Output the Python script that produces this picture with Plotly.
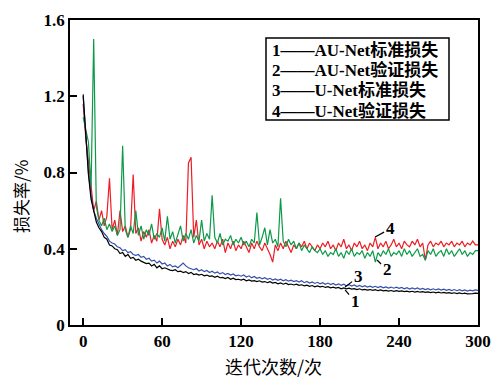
import plotly.graph_objects as go

epochs = list(range(0, 301, 2))

# 1: AU-Net 标准损失 (black)
loss1 = [1.21, 0.97, 0.79, 0.66, 0.59, 0.54, 0.51, 0.49, 0.46, 0.45,
         0.42, 0.415, 0.40, 0.395, 0.375, 0.38, 0.36, 0.37, 0.35, 0.355,
         0.34, 0.345, 0.335, 0.33, 0.322, 0.325, 0.31, 0.318, 0.30, 0.31,
         0.295, 0.30, 0.292, 0.288, 0.285, 0.29, 0.28, 0.283, 0.275, 0.28,
         0.27, 0.276, 0.265, 0.268, 0.262, 0.266, 0.258, 0.262, 0.255, 0.258,
         0.25, 0.256, 0.248, 0.25, 0.244, 0.249, 0.24, 0.246, 0.238, 0.24,
         0.236, 0.24, 0.232, 0.236, 0.23, 0.233, 0.228, 0.232, 0.225, 0.228,
         0.222, 0.227, 0.22, 0.223, 0.216, 0.221, 0.214, 0.219, 0.212, 0.215,
         0.21, 0.214, 0.208, 0.211, 0.205, 0.209, 0.203, 0.207, 0.2, 0.205,
         0.2, 0.203, 0.197, 0.201, 0.195, 0.199, 0.194, 0.197, 0.19, 0.195,
         0.19, 0.193, 0.188, 0.191, 0.186, 0.19, 0.184, 0.187, 0.183, 0.186,
         0.182, 0.185, 0.18, 0.184, 0.179, 0.182, 0.178, 0.181, 0.177, 0.18,
         0.176, 0.179, 0.175, 0.178, 0.174, 0.177, 0.173, 0.176, 0.172, 0.175,
         0.171, 0.174, 0.17, 0.173, 0.169, 0.172, 0.168, 0.171, 0.167, 0.17,
         0.166, 0.169, 0.165, 0.168, 0.164, 0.167, 0.163, 0.166, 0.165, 0.167,
         0.166]

# 2: AU-Net 验证损失 (green)
loss2 = [1.09, 1.02, 0.96, 0.72, 1.50, 0.62, 0.55, 0.52, 0.56, 0.50,
         0.53, 0.49, 0.52, 0.47, 0.50, 0.94, 0.50, 0.46, 0.52, 0.48,
         0.60, 0.47, 0.52, 0.45, 0.50, 0.47, 0.53, 0.45, 0.48, 0.46,
         0.51, 0.44, 0.57, 0.45, 0.49, 0.43, 0.47, 0.52, 0.44, 0.48,
         0.45, 0.50, 0.43, 0.47, 0.44, 0.55, 0.44, 0.48, 0.45, 0.68,
         0.46, 0.43, 0.48, 0.42, 0.45, 0.44, 0.47, 0.42, 0.45, 0.43,
         0.46, 0.42, 0.44, 0.41, 0.45, 0.43, 0.59, 0.42, 0.46, 0.51,
         0.42, 0.50, 0.43, 0.45, 0.41, 0.665, 0.44, 0.41, 0.45, 0.42,
         0.44, 0.40, 0.43, 0.39, 0.42, 0.40, 0.38, 0.41, 0.39, 0.38,
         0.40, 0.37, 0.39, 0.36, 0.38, 0.37, 0.40, 0.36, 0.38, 0.35,
         0.39, 0.37, 0.40, 0.36, 0.38, 0.37, 0.39, 0.35, 0.38, 0.36,
         0.39, 0.33, 0.38, 0.36, 0.39, 0.37, 0.40, 0.36, 0.38, 0.37,
         0.39, 0.36, 0.40, 0.37, 0.39, 0.36, 0.38, 0.40, 0.36, 0.37,
         0.34, 0.39, 0.37, 0.40, 0.36, 0.38, 0.39, 0.36, 0.40, 0.37,
         0.39, 0.36, 0.38, 0.40, 0.37, 0.39, 0.36, 0.38, 0.37, 0.39,
         0.39]

# 3: U-Net 标准损失 (blue)
loss3 = [1.20, 0.99, 0.80, 0.68, 0.60, 0.56, 0.53, 0.50, 0.48, 0.465,
         0.44, 0.43, 0.425, 0.41, 0.405, 0.39, 0.395, 0.38, 0.385, 0.37,
         0.365, 0.37, 0.355, 0.36, 0.345, 0.35, 0.335, 0.34, 0.325, 0.335,
         0.32, 0.325, 0.31, 0.318, 0.305, 0.31, 0.30, 0.315, 0.325, 0.31,
         0.30, 0.295, 0.29, 0.296, 0.283, 0.29, 0.28, 0.286, 0.275, 0.282,
         0.272, 0.278, 0.268, 0.275, 0.265, 0.27, 0.262, 0.268, 0.258, 0.262,
         0.256, 0.262, 0.252, 0.258, 0.248, 0.255, 0.245, 0.25, 0.242, 0.248,
         0.24, 0.245, 0.236, 0.242, 0.234, 0.24, 0.232, 0.238, 0.23, 0.235,
         0.228, 0.233, 0.225, 0.232, 0.222, 0.228, 0.22, 0.226, 0.218, 0.224,
         0.216, 0.222, 0.214, 0.22, 0.212, 0.218, 0.21, 0.216, 0.208, 0.214,
         0.206, 0.212, 0.204, 0.21, 0.202, 0.208, 0.2, 0.206, 0.199, 0.204,
         0.198, 0.203, 0.196, 0.202, 0.195, 0.2, 0.194, 0.199, 0.193, 0.198,
         0.192, 0.197, 0.19, 0.196, 0.189, 0.195, 0.188, 0.194, 0.187, 0.192,
         0.186, 0.191, 0.185, 0.19, 0.184, 0.189, 0.183, 0.188, 0.182, 0.187,
         0.181, 0.186, 0.18, 0.185, 0.179, 0.184, 0.178, 0.183, 0.179, 0.184,
         0.182]

# 4: U-Net 验证损失 (red)
loss4 = [1.16, 0.98, 0.86, 0.72, 0.60, 0.65, 0.55, 0.60, 0.52, 0.57,
         0.77, 0.50, 0.55, 0.47, 0.60, 0.49, 0.52, 0.46, 0.50, 0.79,
         0.48, 0.51, 0.44, 0.49, 0.46, 0.50, 0.43, 0.47, 0.44, 0.61,
         0.45, 0.42, 0.46, 0.40, 0.44, 0.41, 0.45, 0.42, 0.47, 0.43,
         0.85, 0.88, 0.46, 0.55, 0.42, 0.45, 0.40, 0.44, 0.41, 0.43,
         0.40, 0.44, 0.41, 0.45, 0.38, 0.43, 0.40, 0.44, 0.39, 0.42,
         0.40, 0.44, 0.41, 0.38, 0.43, 0.40, 0.44, 0.41, 0.39, 0.43,
         0.40, 0.37, 0.33, 0.42, 0.39, 0.43, 0.40, 0.44, 0.41, 0.38,
         0.42, 0.40, 0.43, 0.41, 0.44, 0.40, 0.43, 0.41, 0.39, 0.42,
         0.40, 0.43, 0.41, 0.44, 0.40, 0.42, 0.39, 0.43, 0.41, 0.45,
         0.40, 0.42, 0.39, 0.43, 0.41, 0.44, 0.40, 0.42, 0.39, 0.43,
         0.41, 0.46, 0.40, 0.43, 0.41, 0.44, 0.40, 0.42, 0.45, 0.41,
         0.43, 0.40, 0.44, 0.42, 0.41, 0.44, 0.42, 0.45, 0.41, 0.43,
         0.34, 0.42, 0.44, 0.41, 0.43, 0.42, 0.44, 0.41, 0.43, 0.42,
         0.44, 0.41, 0.43, 0.42, 0.44, 0.41, 0.43, 0.42, 0.44, 0.42,
         0.42]

x_ticks = [0, 60, 120, 180, 240, 300]
y_ticks = [0, 0.4, 0.8, 1.2, 1.6]
y_ticklabels = ["0", "0.4", "0.8", "1.2", "1.6"]
legend_lines = ["1——AU-Net标准损失", "2——AU-Net验证损失", "3——U-Net标准损失", "4——U-Net验证损失"]

SERIF = "Liberation Serif, 'Times New Roman', 'Noto Sans CJK SC', serif"
CJK = "'Noto Sans CJK SC', 'Liberation Serif', serif"

fig = go.Figure()
series = [(loss4, "#ee1c24"), (loss2, "#0c9a48"), (loss3, "#3550a8"), (loss1, "#000000")]
for ys, col in series:
    fig.add_trace(go.Scatter(x=epochs, y=ys, mode="lines",
                             line=dict(color=col, width=1.2), showlegend=False))

# body margin is removed by post_script, so figure pixels == screen pixels
W, H = 491, 379
L, R, T, B = 70, 13, 20, 54
pw, ph = W - L - R, H - T - B

def px2paper(px, py):
    return (px - L) / pw, (H - B - py) / ph

fig.update_layout(
    width=W, height=H,
    margin=dict(l=L, r=R, t=T, b=B, autoexpand=False),
    paper_bgcolor="white", plot_bgcolor="white",
    showlegend=False,
    xaxis=dict(range=[-10, 300], tickvals=x_ticks, ticks="inside", ticklen=7,
               tickwidth=1.5, tickcolor="black", showline=True, mirror=True,
               linecolor="black", linewidth=1.5, showgrid=False, zeroline=False,
               automargin=False,
               tickfont=dict(family=SERIF, size=17, color="black", weight="bold")),
    yaxis=dict(range=[0, 1.6], tickvals=y_ticks, ticktext=y_ticklabels,
               ticks="inside", ticklen=7, tickwidth=1.5, tickcolor="black",
               showline=True, mirror=True, linecolor="black", linewidth=1.5,
               showgrid=False, zeroline=False, automargin=False,
               tickfont=dict(family=SERIF, size=17, color="black", weight="bold")),
)

# axis titles
ax_, ay_ = px2paper(20, 197)
fig.add_annotation(x=ax_, y=ay_, xref="paper", yref="paper", text="损失率/%",
                   textangle=-90, showarrow=False, xanchor="center", yanchor="middle",
                   font=dict(family=CJK, size=17, color="black"))
bx, by = px2paper(273, 366)
fig.add_annotation(x=bx, y=by, xref="paper", yref="paper", text="迭代次数/次",
                   showarrow=False, xanchor="center", yanchor="middle",
                   font=dict(family=CJK, size=18, color="black"))

# legend box
x0, y0 = px2paper(266, 120)
x1, y1 = px2paper(449, 38)
fig.add_shape(type="rect", xref="paper", yref="paper", x0=x0, y0=y0, x1=x1, y1=y1,
              line=dict(color="black", width=1.5), fillcolor="white", layer="above")
for i, txt in enumerate(legend_lines):
    lx, ly = px2paper(270, 50 + i * 20.2)
    fig.add_annotation(x=lx, y=ly, xref="paper", yref="paper", text="<b>" + txt + "</b>",
                       showarrow=False, xanchor="left", yanchor="middle",
                       font=dict(family=SERIF, size=17, color="black"))

# curve labels
labels = [("4", 221.8, 0.462, 233.2, 0.504),
          ("2", 223.3, 0.341, 230.9, 0.289),
          ("3", 199.0, 0.199, 208.9, 0.252),
          ("1", 199.0, 0.184, 206.6, 0.121)]
for t, xt, yt, xa, ya in labels:
    fig.add_annotation(x=xt, y=yt, ax=xa, ay=ya, xref="x", yref="y", axref="x", ayref="y",
                       text="<b>" + t + "</b>", showarrow=True, arrowhead=0,
                       arrowwidth=1.2, arrowcolor="black", standoff=0,
                       font=dict(family=SERIF, size=17, color="black"))

fig.write_html("out.html",
               config={"displayModeBar": False},
               post_script="document.body.style.margin='0';"
                           "document.body.style.overflow='hidden';")
